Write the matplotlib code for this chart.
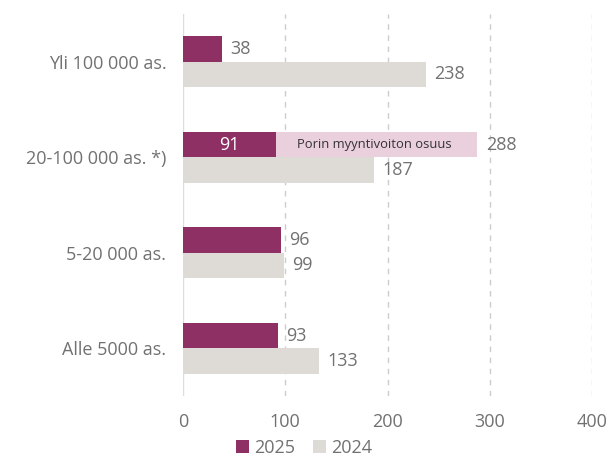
import matplotlib
matplotlib.use("Agg")
import matplotlib.pyplot as plt
import numpy as np

categories = ["Yli 100 000 as.", "20-100 000 as. *)", "5-20 000 as.", "Alle 5000 as."]
v2025 = [38, 91, 96, 93]
v2024 = [238, 187, 99, 133]
pori_extra_total = 288  # total incl. Porin myyntivoitto for 20-100 000 as.
pori_index = 1
xticks = [0, 100, 200, 300, 400]

c2025 = "#8E3063"
c2024 = "#DEDAD6"
cpink = "#EACFDD"
tcol = "#717171"

plt.rcParams['font.family'] = ['Open Sans', 'DejaVu Sans']
fs = 13

fig = plt.figure(figsize=(6.09, 4.57), dpi=100)
ax = fig.add_axes([183/609, 1-396/457, (592-183)/609, (396-14)/457])

y = np.arange(len(categories))
h = 0.265

ax.barh(y - h/2, v2025, height=h, color=c2025, zorder=3, label="2025")
ax.barh(y + h/2, v2024, height=h, color=c2024, zorder=3, label="2024")

# Porin myyntivoitto segment
ax.barh(pori_index - h/2, pori_extra_total - v2025[pori_index], left=v2025[pori_index],
        height=h, color=cpink, zorder=3)
ax.text((v2025[pori_index] + pori_extra_total)/2 - 2, pori_index - h/2, "Porin myyntivoiton osuus",
        ha="center", va="center", fontsize=9.4, color="#333333", zorder=4)

for i in range(len(categories)):
    if i == pori_index:
        ax.text(v2025[i]/2, i - h/2, str(v2025[i]), ha="center", va="center",
                fontsize=fs, color="white", zorder=4)
        ax.text(pori_extra_total + 8, i - h/2, str(pori_extra_total), ha="left", va="center",
                fontsize=fs, color=tcol, zorder=4)
    else:
        ax.text(v2025[i] + 8, i - h/2, str(v2025[i]), ha="left", va="center",
                fontsize=fs, color=tcol, zorder=4)
    ax.text(v2024[i] + 8, i + h/2, str(v2024[i]), ha="left", va="center",
            fontsize=fs, color=tcol, zorder=4)

ax.set_xlim(0, 400)
ax.set_ylim(3.5, -0.5)
ax.set_xticks(xticks)
ax.set_xticklabels([str(t) for t in xticks])
ax.set_yticks(y)
ax.set_yticklabels(categories)
ax.tick_params(axis="both", length=0, colors=tcol, labelsize=fs)
ax.tick_params(axis="y", pad=12)
ax.tick_params(axis="x", pad=12)
for s in ax.spines.values():
    s.set_visible(False)

for t in xticks[1:]:
    ax.axvline(t, color="#cccccc", linestyle=(0, (4, 4)), linewidth=1, zorder=1)
ax.axvline(0, color="#dddddd", linewidth=1, zorder=1)

leg = fig.legend(handles=ax.patches[:1] + [ax.containers[1].patches[0]],
                 labels=["2025", "2024"], loc="lower center", bbox_to_anchor=(0.5, -0.035),
                 ncol=2, frameon=False, fontsize=fs, handlelength=0.7, handleheight=0.7,
                 handletextpad=0.3, columnspacing=1.0)
for t in leg.get_texts():
    t.set_color(tcol)

fig.savefig("out.png", dpi=100)
